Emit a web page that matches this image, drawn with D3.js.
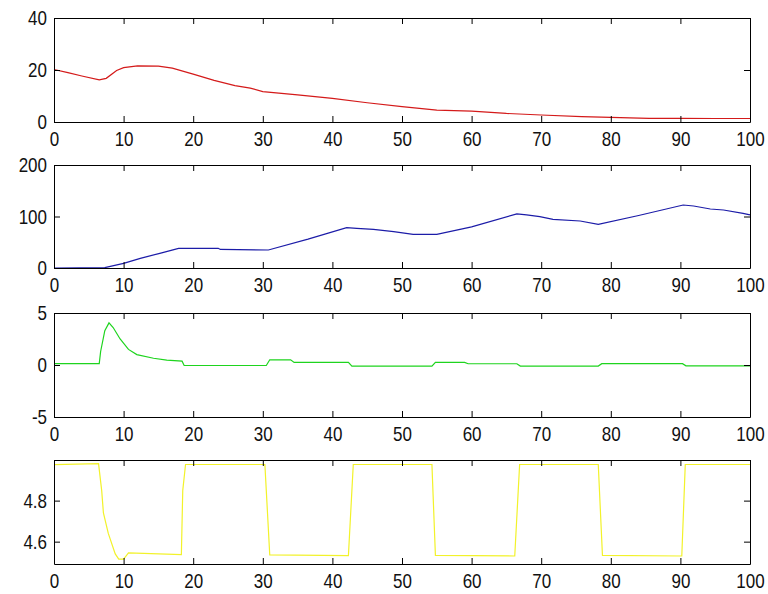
<!DOCTYPE html>
<html>
<head>
<meta charset="utf-8">
<script src="https://cdn.jsdelivr.net/npm/d3@7"></script>
<style>
  html, body { margin: 0; padding: 0; background: #fff; }
  svg { display: block; }
  .tick text { font-family: "Liberation Sans", Arial, sans-serif; font-size: 17px; fill: #111; }
</style>
</head>
<body>
<svg id="chart" width="768" height="594"></svg>
<script>
/* Shared x axis */
const xTicks = [0, 10, 20, 30, 40, 50, 60, 70, 80, 90, 100];

/* Red series */
const redT = [0, 2, 4, 6.5, 7.5, 9, 10, 12, 15, 17, 20, 23, 26, 28.2, 30, 35, 40, 45, 50, 55, 60, 65, 70, 75.8, 80, 85.5, 90, 95, 100];
const redV = [20.2, 19, 17.7, 16.2, 16.8, 19.8, 20.9, 21.6, 21.5, 20.7, 18.4, 16, 14, 13, 11.7, 10.4, 9.1, 7.4, 5.9, 4.6, 4.2, 3.3, 2.7, 2.05, 1.8, 1.4, 1.4, 1.35, 1.35];
const redTicks = [0, 20, 40];

/* Blue series */
const blueT = [0, 7.3, 10, 12.4, 15.2, 17.9, 23.6, 23.9, 30.8, 36.5, 42.05, 43.5, 45.9, 48.8, 51.6, 55, 60, 66.5, 67.9, 69.8, 71.7, 75.6, 78.2, 84, 90.4, 91.9, 94.3, 96.2, 99, 100];
const blueV = [0, 0.6, 9, 18.8, 28.5, 38.2, 38.2, 36, 35, 56, 78.3, 77, 75, 70.5, 65.4, 65.4, 80, 104.9, 103, 99.7, 94.5, 91.3, 84.8, 102, 122.3, 120.4, 114.6, 112.6, 106.2, 103];
const blueTicks = [0, 100, 200];

/* Green series */
const greenT = [0, 6.5, 6.7, 7.3, 7.9, 8.5, 9.5, 10.7, 11.9, 14.3, 16.2, 18.4, 18.7, 30.5, 31, 34, 34.5, 42.3, 42.8, 54.3, 54.8, 59, 59.5, 66.5, 67, 78.2, 78.7, 90.3, 90.8, 100];
const greenV = [0.13, 0.13, 1.3, 3.3, 4.05, 3.6, 2.5, 1.5, 1.0, 0.65, 0.47, 0.37, -0.05, -0.05, 0.5, 0.5, 0.25, 0.25, -0.1, -0.1, 0.25, 0.25, 0.12, 0.12, -0.1, -0.1, 0.13, 0.13, -0.08, -0.08];
const greenTicks = [-5, 0, 5];

/* Yellow series */
const yellowT = [0, 6.4, 6.85, 7.1, 7.8, 8.8, 9.3, 10, 10.7, 18.3, 18.5, 18.9, 30.3, 31.0, 42.3, 43.0, 54.3, 54.8, 66.2, 66.9, 78.2, 78.8, 90.2, 90.7, 100];
const yellowV = [4.975, 4.98, 4.85, 4.74, 4.64, 4.54, 4.515, 4.515, 4.545, 4.537, 4.85, 4.976, 4.976, 4.535, 4.532, 4.976, 4.976, 4.533, 4.53, 4.976, 4.976, 4.533, 4.53, 4.976, 4.976];
const yellowTicks = [4.6, 4.8];

/* Panel layout */
let left = 54;
let right = 750;
let panels = [
  { t: redT, v: redV, ticks: redTicks, domain: [0, 40], top: 18, bottom: 122, color: '#d41a1a' },
  { t: blueT, v: blueV, ticks: blueTicks, domain: [0, 200], top: 165, bottom: 268, color: '#1c1ca8' },
  { t: greenT, v: greenV, ticks: greenTicks, domain: [-5, 5], top: 313, bottom: 417, color: '#1ed41e' },
  { t: yellowT, v: yellowV, ticks: yellowTicks, domain: [4.491, 4.998], top: 460, bottom: 564, color: '#f2f22a' },
];

let svg = d3.select('#chart');
let x = d3.scaleLinear().domain([0, 100]).range([left, right]);

for (let p of panels) {
  let y = d3.scaleLinear().domain(p.domain).range([p.bottom, p.top]);
  let g = svg.append('g').attr('class', 'panel');

  /* Data line */
  let pts = p.t.map((t, i) => [t, p.v[i]]);
  g.append('path')
      .datum(pts)
      .attr('fill', 'none')
      .attr('stroke', p.color)
      .attr('stroke-width', 1.2)
      .attr('d', d3.line().x(d => x(d[0])).y(d => y(d[1])));

  /* Bottom axis with labels */
  let xAxisD3 = g.append('g')
      .attr('transform', `translate(0,${p.bottom})`)
      .call(d3.axisBottom(x).tickValues(xTicks).tickFormat(d3.format('d'))
          .tickSizeInner(-6).tickSizeOuter(0).tickPadding(8));
  xAxisD3.selectAll('.tick text').attr('transform', 'scale(1,1.2)');

  /* Top axis, ticks only */
  g.append('g')
      .attr('transform', `translate(0,${p.top})`)
      .call(d3.axisTop(x).tickValues(xTicks).tickFormat('')
          .tickSizeInner(-6).tickSizeOuter(0));

  /* Left axis with labels */
  let yAxisD3 = g.append('g')
      .attr('transform', `translate(${left},0)`)
      .call(d3.axisLeft(y).tickValues(p.ticks).tickFormat(d => String(d))
          .tickSizeInner(-6).tickSizeOuter(0).tickPadding(7));
  yAxisD3.selectAll('.tick text').attr('transform', 'scale(1,1.2)');

  /* Right axis, ticks only */
  g.append('g')
      .attr('transform', `translate(${right},0)`)
      .call(d3.axisRight(y).tickValues(p.ticks).tickFormat('')
          .tickSizeInner(-6).tickSizeOuter(0));

  g.selectAll('.domain').attr('stroke', '#000');
  g.selectAll('.tick line').attr('stroke', '#000');
}
</script>
</body>
</html>
